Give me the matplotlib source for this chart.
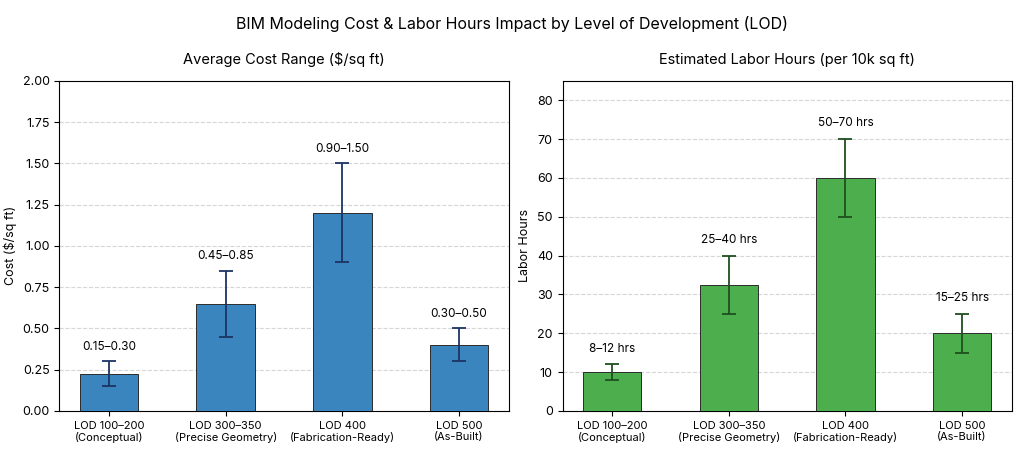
import numpy as np
import matplotlib.pyplot as plt

plt.rcParams['font.family'] = ['Inter', 'DejaVu Sans']

categories = ['LOD 100–200\n(Conceptual)', 'LOD 300–350\n(Precise Geometry)',
              'LOD 400\n(Fabrication-Ready)', 'LOD 500\n(As-Built)']
cost_low = [0.15, 0.45, 0.90, 0.30]
cost_high = [0.30, 0.85, 1.50, 0.50]
cost_labels = ['0.15–0.30', '0.45–0.85', '0.90–1.50', '0.30–0.50']
hours_low = [8, 25, 50, 15]
hours_high = [12, 40, 70, 25]
hours_labels = ['8–12 hrs', '25–40 hrs', '50–70 hrs', '15–25 hrs']


def panel(ax, low, high, labels, color, ecolor, title, ylabel, ylim, yticks, offset):
    low = np.array(low, float)
    high = np.array(high, float)
    mid = (low + high) / 2
    err = (high - low) / 2
    x = np.arange(len(categories))
    ax.bar(x, mid, width=0.5, color=color, edgecolor='#2b2b2b', linewidth=0.7,
           yerr=err, capsize=5, error_kw=dict(ecolor=ecolor, elinewidth=1.3, capthick=1.3),
           zorder=3)
    for xi, h, t in zip(x, high, labels):
        ax.text(xi, h + offset, t, ha='center', va='bottom', fontsize=8.5)
    ax.set_xticks(x)
    ax.set_xticklabels(categories, fontsize=8)
    ax.set_ylim(*ylim)
    ax.set_yticks(yticks)
    ax.tick_params(axis='y', labelsize=9)
    ax.set_ylabel(ylabel, fontsize=9)
    ax.set_title(title, fontsize=10.5, pad=12)
    ax.yaxis.grid(True, linestyle='--', color='#cccccc', alpha=0.8, zorder=0)
    ax.set_axisbelow(True)


fig, (ax1, ax2) = plt.subplots(1, 2, figsize=(10.24, 4.49), dpi=100)
panel(ax1, cost_low, cost_high, cost_labels, '#3b85bf', '#1c3464',
      'Average Cost Range ($/sq ft)', 'Cost ($/sq ft)', (0, 2.0),
      np.arange(0, 2.01, 0.25), 0.05)
ax1.set_yticklabels([f'{v:.2f}' for v in np.arange(0, 2.01, 0.25)])
panel(ax2, hours_low, hours_high, hours_labels, '#4cae4c', '#1f4f1f',
      'Estimated Labor Hours (per 10k sq ft)', 'Labor Hours', (0, 85),
      np.arange(0, 81, 10), 2.5)
fig.suptitle('BIM Modeling Cost & Labor Hours Impact by Level of Development (LOD)',
             fontsize=11.5, y=0.965)
fig.subplots_adjust(left=0.058, right=0.988, bottom=0.085, top=0.82, wspace=0.12)
fig.savefig('out.png', dpi=100)
